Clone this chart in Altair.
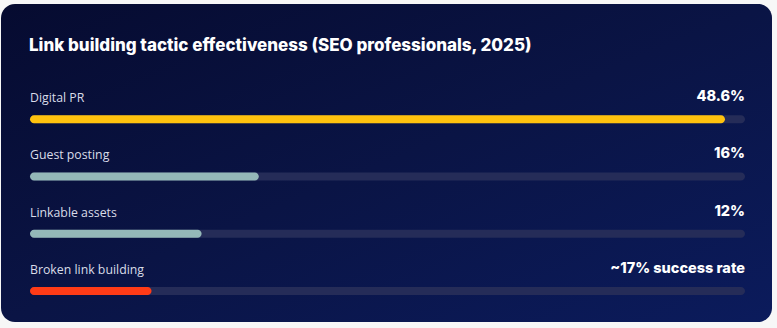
import altair as alt
import pandas as pd

# ---- data ----
categories = ["Digital PR", "Guest posting", "Linkable assets", "Broken link building"]
values = [48.6, 16, 12, 17]
scale_max = [50, 50, 50, 100]
value_labels = ["48.6%", "16%", "12%", "~17% success rate"]
bar_colors = ["#FFC20E", "#94B8B8", "#94B8B8", "#FF3B17"]
title_text = "Link building tactic effectiveness (SEO professionals, 2025)"

df = pd.DataFrame({
    "category": categories,
    "value": values,
    "max": scale_max,
    "label": value_labels,
    "color": bar_colors,
})

W, H = 777, 328

xs = alt.Scale(domain=[0, 1], range=[30, 745])
ys = alt.Scale(domain=categories, range=[90.5, 319.5], paddingInner=0, paddingOuter=0)

base = alt.Chart(df).transform_calculate(
    frac="datum.value / datum.max", start="0", end="1"
)

card = alt.Chart(pd.DataFrame({"t": [title_text]})).mark_rect(
    cornerRadius=14,
    color=alt.LinearGradient(
        gradient="linear", x1=0, y1=0, x2=1, y2=1,
        stops=[alt.GradientStop(color="#060b30", offset=0),
               alt.GradientStop(color="#0a1445", offset=0.5),
               alt.GradientStop(color="#0b1b5c", offset=1)],
    ),
).encode(x=alt.value(1), x2=alt.value(772), y=alt.value(4), y2=alt.value(322))

title = alt.Chart(pd.DataFrame({"t": [title_text]})).mark_text(
    align="left", baseline="alphabetic", font="Inter", fontSize=17, fontWeight=800,
    color="#ffffff",
).encode(x=alt.value(29), y=alt.value(51), text="t:N")

X = alt.X("start:Q", scale=xs, axis=None)
Y = alt.Y("category:N", scale=ys, sort=None, axis=None)

track = base.mark_bar(height=8, cornerRadius=4, color="#252c58").encode(
    x=X, x2="end:Q", y=Y,
)

fill = base.mark_bar(height=8, cornerRadius=4).encode(
    x=X, x2="frac:Q", y=Y,
    color=alt.Color("color:N", scale=None),
)

labels = base.mark_text(
    align="left", baseline="alphabetic", dx=0, dy=-17,
    font="Open Sans", fontSize=12.3, color="#d9dce8",
).encode(x=X, y=Y, text="category:N")

vals = base.mark_text(
    align="right", baseline="alphabetic", dx=0, dy=-18,
    font="Inter", fontSize=14.5, fontWeight=800, color="#ffffff",
).encode(x=alt.X("end:Q", scale=xs, axis=None), y=Y, text="label:N")

chart = alt.layer(card, title, track, fill, labels, vals).properties(
    width=W, height=H, background="#f7f7f7", padding=0,
    autosize=alt.AutoSizeParams(type="none"),
).configure_view(stroke=None)

chart.save("out.html", embed_options={"renderer": "svg", "actions": False})
